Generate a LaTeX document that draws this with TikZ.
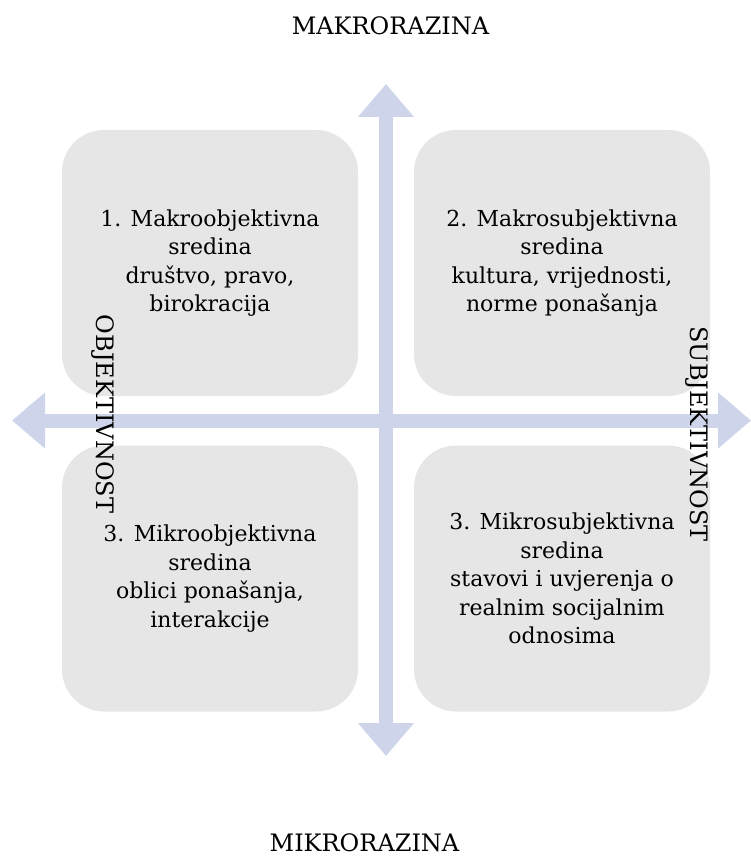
\documentclass[tikz,border=0pt]{standalone}
\usepackage{fontspec}
\setmainfont{DejaVu Serif}
\usetikzlibrary{arrows.meta}
\definecolor{boxgray}{HTML}{E6E6E6}
\definecolor{axiscol}{HTML}{CED5EA}
\begin{document}
\begin{tikzpicture}[x=1pt,y=-1pt,
  quad/.style={fill=boxgray, rounded corners=42pt, minimum width=296pt, minimum height=266pt,
    align=center, inner sep=0pt, font=\fontsize{22}{28.5}\selectfont},
  axis/.style={axiscol, line width=14pt, {Triangle[width=54pt,length=33pt]}-{Triangle[width=54pt,length=33pt]}},
  lab/.style={inner sep=0pt, font=\fontsize{24}{28}\selectfont}]
\useasboundingbox (0,0) rectangle (750,861);
\node[quad] (q1) at (210,263) {1. Makroobjektivna\\sredina\\društvo, pravo,\\birokracija};
\node[quad] (q2) at (562,263) {2. Makrosubjektivna\\sredina\\kultura, vrijednosti,\\norme ponašanja};
\node[quad] (q3) at (210,578.5) {3. Mikroobjektivna\\sredina\\oblici ponašanja,\\interakcije};
\node[quad] (q4) at (562,578.5) {3. Mikrosubjektivna\\sredina\\stavovi i uvjerenja o\\realnim socijalnim\\odnosima};
\coordinate (top) at (386,84);
\coordinate (bot) at (386,756);
\coordinate (lft) at (12,420.5);
\coordinate (rgt) at (751,420.5);
\draw[axis] (top) -- (bot);
\draw[axis] (lft) -- (rgt);
\node[lab, anchor=base] (makro) at (390.5,35) {MAKRORAZINA};
\node[lab, anchor=base] (mikro) at (364.5,851) {MIKRORAZINA};
\node[lab, rotate=-90] (obj) at (102.5,414) {OBJEKTIVNOST};
\node[lab, rotate=-90] (subj) at (697,434) {SUBJEKTIVNOST};
\end{tikzpicture}
\end{document}
